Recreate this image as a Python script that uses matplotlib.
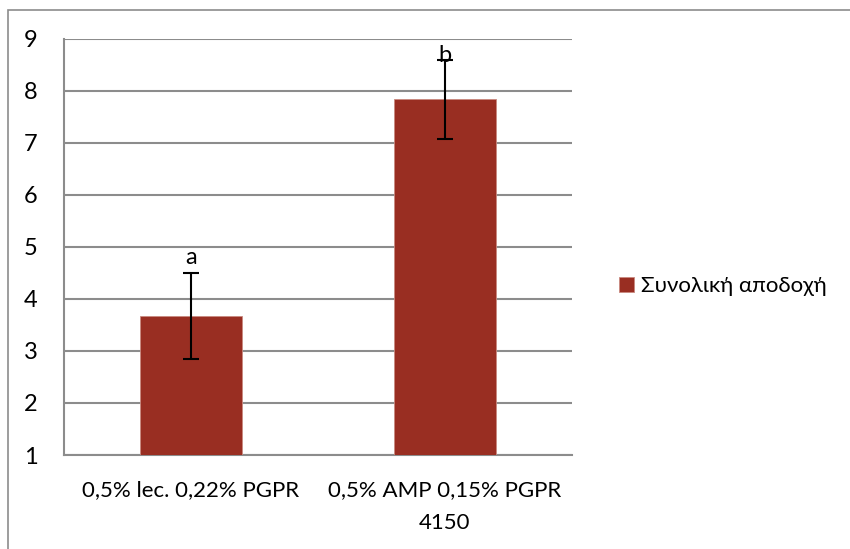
import matplotlib
matplotlib.use("Agg")
import matplotlib.pyplot as plt
from matplotlib.patches import Rectangle

categories = ["0,5% lec. 0,22% PGPR", "0,5% AMP 0,15% PGPR\n4150"]
values = [3.67, 7.83]
errors = [0.82, 0.76]
letters = ["a", "b"]
series_name = "Συνολική αποδοχή"
yticks = [1, 2, 3, 4, 5, 6, 7, 8, 9]

plt.rcParams['font.family'] = ['Lato', 'DejaVu Sans']
FS = 16

W, H = 850, 549
fig = plt.figure(figsize=(W / 100, H / 100), dpi=100)

# outer chart frame (runs past the right and bottom edges)
fig.patches.append(Rectangle((8 / W, -0.05), 1.2, (H - 9.5) / H + 0.05,
                             transform=fig.transFigure, fill=False,
                             edgecolor="#8c8c8c", linewidth=1.2))

left, right, top, bottom = 64, 572, 38.5, 455
ax = fig.add_axes([left / W, 1 - bottom / H, (right - left) / W, (bottom - top) / H])

bar_color = "#992e22"
x = [0, 1]
ax.bar(x, [v - 1 for v in values], bottom=1, width=0.4, color=bar_color,
       edgecolor="#c98a80", linewidth=0.6, zorder=3, label=series_name)
ax.errorbar(x, values, yerr=errors, fmt="none", ecolor="black",
            elinewidth=1.5, capsize=6, capthick=1.5, zorder=4)

letter_offsets = [0.30, 0.08]
for xi, v, e, lt, off in zip(x, values, errors, letters, letter_offsets):
    ax.text(xi, v + e + off, lt, ha="center", va="center", fontsize=FS + 1, zorder=5)

ax.set_xlim(-0.5, 1.5)
ax.set_ylim(1, 9)
ax.set_yticks(yticks)
ax.set_yticklabels([str(t) for t in yticks], fontsize=FS + 1)
ax.set_xticks(x)
ax.set_xticklabels(categories, fontsize=FS, linespacing=1.8)
ax.tick_params(axis="both", length=0)
ax.tick_params(axis="x", pad=18)
ax.tick_params(axis="y", pad=19)
ax.yaxis.grid(True, color="#8c8c8c", linewidth=1.5, zorder=0)
ax.set_axisbelow(True)
for s in ["top", "right"]:
    ax.spines[s].set_visible(False)
for s in ["left", "bottom"]:
    ax.spines[s].set_color("#8c8c8c")
    ax.spines[s].set_linewidth(1.5)

leg = fig.legend(loc="center left", bbox_to_anchor=(608 / W, 1 - 286 / H),
                 frameon=False, fontsize=FS, handlelength=0.65, handleheight=0.65,
                 handletextpad=0.35, borderpad=0)

fig.savefig("out.png", dpi=100)
